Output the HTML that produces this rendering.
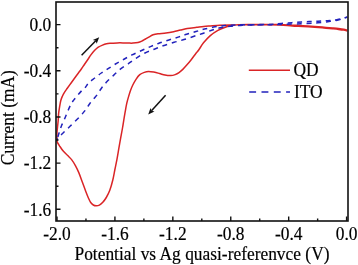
<!DOCTYPE html>
<html><head><meta charset="utf-8"><style>
html,body{margin:0;padding:0;background:#fff;}
svg{display:block;}
text{font-family:"Liberation Serif","Times New Roman",serif;font-size:18.2px;fill:#000;stroke:#000;stroke-width:0.18px;}
</style></head><body>
<svg width="358" height="265" viewBox="0 0 358 265">
<rect width="358" height="265" fill="#fff"/>
<path d="M347.30,30.10 C346.70,29.97 345.17,29.55 343.70,29.30 C342.23,29.05 340.35,28.82 338.50,28.60 C336.65,28.38 335.02,28.23 332.60,28.00 C330.18,27.77 326.98,27.45 324.00,27.20 C321.02,26.95 318.20,26.75 314.70,26.50 C311.20,26.25 306.73,25.92 303.00,25.70 C299.27,25.48 296.13,25.38 292.30,25.20 C288.47,25.02 284.55,24.72 280.00,24.60 C275.45,24.48 270.00,24.52 265.00,24.50 C260.00,24.48 254.33,24.47 250.00,24.50 C245.67,24.53 242.03,24.52 239.00,24.70 C235.97,24.88 234.18,25.13 231.80,25.60 C229.42,26.07 227.08,26.67 224.70,27.50 C222.32,28.33 219.90,29.25 217.50,30.60 C215.10,31.95 212.63,33.57 210.30,35.60 C207.97,37.63 205.43,40.40 203.50,42.80 C201.57,45.20 199.95,48.27 198.70,50.00 C197.45,51.73 197.28,51.53 196.00,53.20 C194.72,54.87 192.47,58.10 191.00,60.00 C189.53,61.90 188.57,63.03 187.20,64.60 C185.83,66.17 184.17,68.07 182.80,69.40 C181.43,70.73 180.27,71.73 179.00,72.60 C177.73,73.47 176.57,74.10 175.20,74.60 C173.83,75.10 172.50,75.52 170.80,75.60 C169.10,75.68 166.88,75.45 165.00,75.10 C163.12,74.75 161.38,74.00 159.50,73.50 C157.62,73.00 155.53,72.43 153.70,72.10 C151.87,71.77 150.07,71.45 148.50,71.50 C146.93,71.55 145.75,71.87 144.30,72.40 C142.85,72.93 141.18,73.55 139.80,74.70 C138.42,75.85 137.17,77.58 136.00,79.30 C134.83,81.02 133.72,83.13 132.80,85.00 C131.88,86.87 131.15,88.75 130.50,90.50 C129.85,92.25 129.52,93.40 128.90,95.50 C128.28,97.60 127.38,100.58 126.80,103.10 C126.22,105.62 125.85,108.08 125.40,110.60 C124.95,113.12 124.58,115.30 124.10,118.20 C123.62,121.10 123.08,124.63 122.50,128.00 C121.92,131.37 121.22,134.95 120.60,138.40 C119.98,141.85 119.40,145.25 118.80,148.70 C118.20,152.15 117.65,155.63 117.00,159.10 C116.35,162.57 115.60,166.02 114.90,169.50 C114.20,172.98 113.65,176.53 112.80,180.00 C111.95,183.47 110.88,187.38 109.80,190.30 C108.72,193.22 107.47,195.50 106.30,197.50 C105.13,199.50 103.95,201.03 102.80,202.30 C101.65,203.57 100.50,204.52 99.40,205.10 C98.30,205.68 97.22,205.82 96.20,205.80 C95.18,205.78 94.22,205.55 93.30,205.00 C92.38,204.45 91.50,203.63 90.70,202.50 C89.90,201.37 89.35,200.12 88.50,198.20 C87.65,196.28 86.60,193.62 85.60,191.00 C84.60,188.38 83.63,185.57 82.50,182.50 C81.37,179.43 79.98,175.42 78.80,172.60 C77.62,169.78 76.60,167.77 75.40,165.60 C74.20,163.43 72.93,161.32 71.60,159.60 C70.27,157.88 68.83,156.77 67.40,155.30 C65.97,153.83 64.32,152.38 63.00,150.80 C61.68,149.22 60.48,147.27 59.50,145.80 C58.52,144.33 57.50,142.63 57.10,142.00 M57.10,142.00 C57.10,141.65 57.13,141.23 57.10,139.90 C57.07,138.57 56.83,136.12 56.90,134.00 C56.97,131.88 57.28,129.47 57.50,127.20 C57.72,124.93 58.02,122.67 58.20,120.40 C58.38,118.13 58.37,115.87 58.60,113.60 C58.83,111.33 59.23,108.98 59.60,106.80 C59.97,104.62 60.33,102.27 60.80,100.50 C61.27,98.73 61.82,97.52 62.40,96.20 C62.98,94.88 63.48,93.92 64.30,92.60 C65.12,91.28 66.17,89.90 67.30,88.30 C68.43,86.70 69.87,84.72 71.10,83.00 C72.33,81.28 73.48,79.67 74.70,78.00 C75.92,76.33 77.27,74.53 78.40,73.00 C79.53,71.47 80.50,70.22 81.50,68.80 C82.50,67.38 83.40,65.97 84.40,64.50 C85.40,63.03 86.38,61.65 87.50,60.00 C88.62,58.35 89.90,56.22 91.10,54.60 C92.30,52.98 93.50,51.53 94.70,50.30 C95.90,49.07 97.00,48.07 98.30,47.20 C99.60,46.33 101.13,45.68 102.50,45.10 C103.87,44.52 105.25,44.02 106.50,43.70 C107.75,43.38 108.20,43.33 110.00,43.20 C111.80,43.07 115.13,42.95 117.30,42.90 C119.47,42.85 121.12,42.87 123.00,42.90 C124.88,42.93 126.93,43.07 128.60,43.10 C130.27,43.13 131.43,43.20 133.00,43.10 C134.57,43.00 136.53,42.83 138.00,42.50 C139.47,42.17 140.55,41.68 141.80,41.10 C143.05,40.52 144.25,39.72 145.50,39.00 C146.75,38.28 148.03,37.52 149.30,36.80 C150.57,36.08 151.65,35.22 153.10,34.70 C154.55,34.18 155.85,33.97 158.00,33.70 C160.15,33.43 163.40,33.42 166.00,33.10 C168.60,32.78 171.20,32.30 173.60,31.80 C176.00,31.30 178.13,30.63 180.40,30.10 C182.67,29.57 184.47,29.07 187.20,28.60 C189.93,28.13 194.07,27.67 196.80,27.30 C199.53,26.93 201.33,26.63 203.60,26.40 C205.87,26.17 207.67,26.08 210.40,25.90 C213.13,25.72 216.73,25.45 220.00,25.30 C223.27,25.15 225.33,25.08 230.00,25.00 C234.67,24.92 242.17,24.83 248.00,24.80 C253.83,24.77 259.67,24.77 265.00,24.80 C270.33,24.83 275.45,24.80 280.00,25.00 C284.55,25.20 288.47,25.75 292.30,26.00 C296.13,26.25 299.27,26.28 303.00,26.50 C306.73,26.72 311.20,27.05 314.70,27.30 C318.20,27.55 321.02,27.75 324.00,28.00 C326.98,28.25 330.18,28.57 332.60,28.80 C335.02,29.03 336.65,29.18 338.50,29.40 C340.35,29.62 342.23,29.85 343.70,30.10 C345.17,30.35 346.70,30.77 347.30,30.90" fill="none" stroke="#da2426" stroke-width="1.5" stroke-linejoin="round"/>
<path d="M56.80,139.80 C56.95,139.42 57.37,138.50 57.70,137.50 C58.03,136.50 58.43,135.02 58.80,133.80 C59.17,132.58 59.47,131.50 59.90,130.20 C60.33,128.90 60.80,127.45 61.40,126.00 C62.00,124.55 62.77,123.17 63.50,121.50 C64.23,119.83 64.97,118.00 65.80,116.00 C66.63,114.00 67.63,111.50 68.50,109.50 C69.37,107.50 70.13,105.57 71.00,104.00 C71.87,102.43 72.57,101.60 73.70,100.10 C74.83,98.60 76.43,96.60 77.80,95.00 C79.17,93.40 80.62,91.80 81.90,90.50 C83.18,89.20 84.35,88.48 85.50,87.20 C86.65,85.92 87.25,84.33 88.80,82.80 C90.35,81.27 92.72,79.63 94.80,78.00 C96.88,76.37 99.08,74.55 101.30,73.00 C103.52,71.45 105.73,70.20 108.10,68.70 C110.47,67.20 112.93,65.53 115.50,64.00 C118.07,62.47 120.75,61.02 123.50,59.50 C126.25,57.98 128.98,56.40 132.00,54.90 C135.02,53.40 138.52,51.88 141.60,50.50 C144.68,49.12 147.70,47.77 150.50,46.60 C153.30,45.43 155.45,44.57 158.40,43.50 C161.35,42.43 164.90,41.27 168.20,40.20 C171.50,39.13 175.13,38.08 178.20,37.10 C181.27,36.12 183.63,35.23 186.60,34.30 C189.57,33.37 193.02,32.37 196.00,31.50 C198.98,30.63 201.33,29.88 204.50,29.10 C207.67,28.32 211.58,27.40 215.00,26.80 C218.42,26.20 221.67,25.80 225.00,25.50 C228.33,25.20 230.83,25.13 235.00,25.00 C239.17,24.87 245.00,24.78 250.00,24.70 C255.00,24.62 261.00,24.58 265.00,24.50 C269.00,24.42 270.53,24.43 274.00,24.20 C277.47,23.97 281.92,23.42 285.80,23.10 C289.68,22.78 293.43,22.55 297.30,22.30 C301.17,22.05 305.55,21.78 309.00,21.60 C312.45,21.42 315.33,21.32 318.00,21.20 C320.67,21.08 322.83,21.03 325.00,20.90 C327.17,20.77 329.17,20.57 331.00,20.40 C332.83,20.23 334.00,20.25 336.00,19.90 C338.00,19.55 341.12,18.80 343.00,18.30 C344.88,17.80 346.58,17.13 347.30,16.90" fill="none" stroke="#2222bc" stroke-width="1.5" stroke-dasharray="4.8 4.7" stroke-dashoffset="-3.05"/>
<path d="M56.80,140.40 C56.97,140.10 57.18,139.42 57.80,138.60 C58.42,137.78 59.50,136.55 60.50,135.50 C61.50,134.45 62.10,133.95 63.80,132.30 C65.50,130.65 68.13,128.10 70.70,125.60 C73.27,123.10 76.73,119.90 79.20,117.30 C81.67,114.70 83.67,112.38 85.50,110.00 C87.33,107.62 88.38,105.40 90.20,103.00 C92.02,100.60 94.50,98.10 96.40,95.60 C98.30,93.10 99.83,90.33 101.60,88.00 C103.37,85.67 104.97,83.75 107.00,81.60 C109.03,79.45 111.63,77.13 113.80,75.10 C115.97,73.07 117.63,71.25 120.00,69.40 C122.37,67.55 125.33,65.85 128.00,64.00 C130.67,62.15 133.17,60.13 136.00,58.30 C138.83,56.47 141.95,54.52 145.00,53.00 C148.05,51.48 151.28,50.40 154.30,49.20 C157.32,48.00 159.78,46.95 163.10,45.80 C166.42,44.65 170.57,43.38 174.20,42.30 C177.83,41.22 181.27,40.42 184.90,39.30 C188.53,38.18 192.92,36.62 196.00,35.60 C199.08,34.58 200.67,34.13 203.40,33.20 C206.13,32.27 209.63,30.90 212.40,30.00 C215.17,29.10 217.07,28.43 220.00,27.80 C222.93,27.17 226.67,26.60 230.00,26.20 C233.33,25.80 236.67,25.60 240.00,25.40 C243.33,25.20 245.83,25.10 250.00,25.00 C254.17,24.90 261.00,24.87 265.00,24.80 C269.00,24.73 270.67,24.68 274.00,24.60 C277.33,24.52 280.50,24.43 285.00,24.30 C289.50,24.17 296.40,23.98 301.00,23.80 C305.60,23.62 309.77,23.37 312.60,23.20 C315.43,23.03 316.03,22.97 318.00,22.80 C319.97,22.63 322.40,22.45 324.40,22.20 C326.40,21.95 328.07,21.58 330.00,21.30 C331.93,21.02 333.83,20.95 336.00,20.50 C338.17,20.05 341.12,19.17 343.00,18.60 C344.88,18.03 346.58,17.35 347.30,17.10" fill="none" stroke="#2222bc" stroke-width="1.5" stroke-dasharray="5 4.8" stroke-dashoffset="-6.95"/>
<rect x="56" y="2" width="292" height="219" fill="none" stroke="#111" stroke-width="1.6"/>
<path d="M57.00,221.00 V216.50 M85.96,221.00 V218.50 M114.92,221.00 V216.50 M143.88,221.00 V218.50 M172.84,221.00 V216.50 M201.80,221.00 V218.50 M230.76,221.00 V216.50 M259.72,221.00 V218.50 M288.68,221.00 V216.50 M317.64,221.00 V218.50 M346.60,221.00 V216.50 M56.00,24.60 H60.50 M56.00,47.69 H58.50 M56.00,70.78 H60.50 M56.00,93.86 H58.50 M56.00,116.95 H60.50 M56.00,140.04 H58.50 M56.00,163.12 H60.50 M56.00,186.21 H58.50 M56.00,209.30 H60.50" stroke="#111" stroke-width="1.4" fill="none"/>
<!-- arrows -->
<path d="M81.60,55.30 L95.78,40.71" stroke="#111" stroke-width="1.50"/><path d="M99.20,37.20 L96.67,43.67 L95.72,40.78 L92.80,39.91 Z" fill="#111"/>
<path d="M165.60,95.20 L151.48,110.86" stroke="#111" stroke-width="1.50"/><path d="M148.20,114.50 L150.48,107.94 L151.54,110.79 L154.49,111.55 Z" fill="#111"/>
<!-- legend -->
<path d="M248.8,70.3 H290" stroke="#da2426" stroke-width="1.5"/>
<path d="M249.2,92 H290" stroke="#2222bc" stroke-width="1.7" stroke-dasharray="6.9 5.4"/>
<text transform="translate(293.50,76.30) scale(0.956,1)">QD</text>
<text transform="translate(294.00,98.00) scale(0.956,1)">ITO</text>
<text transform="translate(57.00,240.20) scale(0.956,1)" text-anchor="middle">-2.0</text><text transform="translate(114.92,240.20) scale(0.956,1)" text-anchor="middle">-1.6</text><text transform="translate(172.84,240.20) scale(0.956,1)" text-anchor="middle">-1.2</text><text transform="translate(230.76,240.20) scale(0.956,1)" text-anchor="middle">-0.8</text><text transform="translate(288.68,240.20) scale(0.956,1)" text-anchor="middle">-0.4</text><text transform="translate(346.60,240.20) scale(0.956,1)" text-anchor="middle">0.0</text><text transform="translate(51.30,30.90) scale(0.956,1)" text-anchor="end">0.0</text><text transform="translate(51.30,77.08) scale(0.956,1)" text-anchor="end">-0.4</text><text transform="translate(51.30,123.25) scale(0.956,1)" text-anchor="end">-0.8</text><text transform="translate(51.30,169.43) scale(0.956,1)" text-anchor="end">-1.2</text><text transform="translate(51.30,215.60) scale(0.956,1)" text-anchor="end">-1.6</text>
<text transform="translate(202.00,260.40) scale(0.956,1)" text-anchor="middle">Potential vs Ag quasi-referenvce (V)</text>
<text transform="translate(14.30,117.75) rotate(-90) scale(0.956,1)" text-anchor="middle">Current (mA)</text>
</svg>
</body></html>
